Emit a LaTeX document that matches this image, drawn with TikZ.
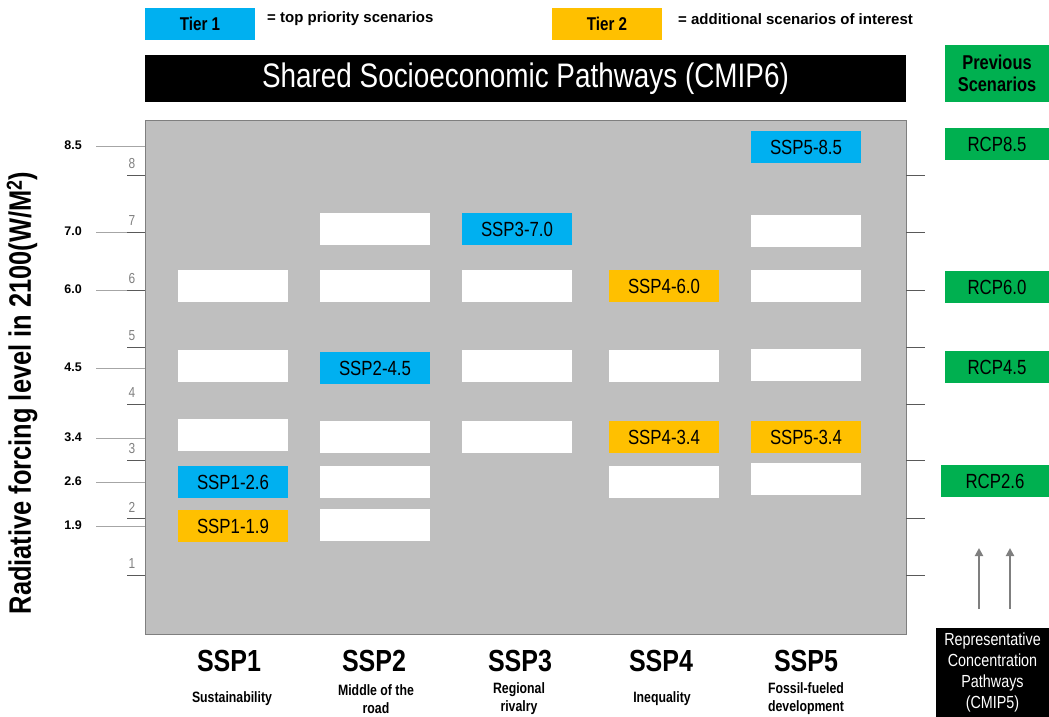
\documentclass[tikz,border=0pt]{standalone}
\usepackage{fontspec}
\setmainfont{Liberation Sans}
\newfontfamily\narrow[FakeStretch=0.82]{Liberation Sans}
\usetikzlibrary{arrows.meta}
\definecolor{tierblue}{HTML}{00B0F0}
\definecolor{tierorange}{HTML}{FFC000}
\definecolor{rcpgreen}{HTML}{00B050}
\definecolor{panelgray}{HTML}{BFBFBF}
\definecolor{framegray}{HTML}{7F7F7F}
\definecolor{ticklight}{HTML}{A6A6A6}
\definecolor{tickdark}{HTML}{595959}
\definecolor{numgray}{HTML}{808080}
\tikzset{
  scen/.style={minimum width=110pt, minimum height=32pt, inner sep=0pt,
    font=\narrow\fontsize{20.5}{22}\selectfont},
  blank/.style={scen, fill=white},
  tierone/.style={scen, fill=tierblue},
  tiertwo/.style={scen, fill=tierorange},
  rcp/.style={fill=rcpgreen, minimum width=104pt, minimum height=32pt, inner sep=0pt,
    font=\narrow\fontsize{20.5}{22}\selectfont},
  legendbox/.style={minimum width=110pt, minimum height=32pt, inner sep=0pt,
    font=\narrow\bfseries\fontsize{18.5}{20}\selectfont},
  legendtext/.style={anchor=west, inner sep=0pt, font=\bfseries\fontsize{15}{17}\selectfont},
  valuelabel/.style={anchor=east, inner sep=0pt, font=\bfseries\fontsize{12.5}{15}\selectfont},
  intlabel/.style={inner sep=0pt, text=numgray, font=\narrow\fontsize{14.5}{16}\selectfont},
  valueline/.style={ticklight, line width=0.8pt},
  intline/.style={tickdark, line width=0.8pt},
  ssphead/.style={inner sep=0pt, font=\narrow\bfseries\fontsize{30.5}{32}\selectfont},
  sspsub/.style={inner sep=0pt, align=center, font=\narrow\bfseries\fontsize{15}{18}\selectfont},
  uparrow/.style={framegray, line width=2.6pt, -{Triangle[length=8pt,width=8pt]}}
}
\begin{document}
\begin{tikzpicture}[x=1pt,y=-1pt]
\useasboundingbox (0,0) rectangle (1049,717);

% legend
\node[legendbox, fill=tierblue] (leg1) at (200,24) {Tier 1};
\node[legendtext] (leg1t) at (267,19) {= top priority scenarios};
\node[legendbox, fill=tierorange] (leg2) at (607,24) {Tier 2};
\node[legendtext] (leg2t) at (678,19) {= additional scenarios of interest};

% title bar and previous-scenarios header
\node[fill=black, text=white, minimum width=761pt, minimum height=47pt, inner sep=0pt,
  font=\narrow\fontsize{34}{36}\selectfont] (title) at (525.5,78.5) {Shared Socioeconomic Pathways (CMIP6)};
\node[fill=rcpgreen, minimum width=104pt, minimum height=57pt, inner sep=0pt, align=center,
  font=\narrow\bfseries\fontsize{20}{22}\selectfont] (prev) at (997,73.5) {Previous\\Scenarios};

% grey panel
\node[fill=panelgray, draw=framegray, line width=1pt, minimum width=761pt, minimum height=514pt,
  inner sep=0pt] (panel) at (525.5,377) {};

% forcing values on the left
\foreach \v/\y in {8.5/146, 7.0/232, 6.0/290, 4.5/368, 3.4/438, 2.6/482, 1.9/526}{
  \draw[valueline] (96,\y) -- (145,\y);
  \node[valuelabel] at (82,\y-1) {\v};
}
% integer scale, left and right
\foreach \k/\y in {1/575, 2/518, 3/460, 4/404, 5/347, 6/290, 7/232, 8/175}{
  \draw[intline] (127,\y) -- (145,\y);
  \draw[intline] (906,\y) -- (925,\y);
  \node[intlabel] at (132,\y-11) {\k};
}

% axis title
\node[rotate=90, inner sep=0pt, font=\narrow\bfseries\fontsize{31}{33}\selectfont] (ylab) at (22,393)
  {Radiative forcing level in 2100(W/M\textsuperscript{2})};

% SSP1
\node[blank] (s1a) at (233,286) {};
\node[blank] (s1b) at (233,366) {};
\node[blank] (s1c) at (233,435) {};
\node[tierone] (s1d) at (233,482) {SSP1-2.6};
\node[tiertwo] (s1e) at (233,526) {SSP1-1.9};
% SSP2
\node[blank] (s2a) at (375,229) {};
\node[blank] (s2b) at (375,286) {};
\node[tierone] (s2c) at (375,368) {SSP2-4.5};
\node[blank] (s2d) at (375,437) {};
\node[blank] (s2e) at (375,482) {};
\node[blank] (s2f) at (375,525) {};
% SSP3
\node[tierone] (s3a) at (517,229) {SSP3-7.0};
\node[blank] (s3b) at (517,286) {};
\node[blank] (s3c) at (517,366) {};
\node[blank] (s3d) at (517,437) {};
% SSP4
\node[tiertwo] (s4a) at (664,286) {SSP4-6.0};
\node[blank] (s4b) at (664,366) {};
\node[tiertwo] (s4c) at (664,437) {SSP4-3.4};
\node[blank] (s4d) at (664,482) {};
% SSP5
\node[tierone] (s5a) at (806,147) {SSP5-8.5};
\node[blank] (s5b) at (806,231) {};
\node[blank] (s5c) at (806,286) {};
\node[blank] (s5d) at (806,365) {};
\node[tiertwo] (s5e) at (806,437) {SSP5-3.4};
\node[blank] (s5f) at (806,479) {};

% column headings
\node[ssphead] (h1) at (229,661) {SSP1};
\node[ssphead] (h2) at (374,661) {SSP2};
\node[ssphead] (h3) at (520,661) {SSP3};
\node[ssphead] (h4) at (661,661) {SSP4};
\node[ssphead] (h5) at (806,661) {SSP5};
\node[sspsub] (d1) at (232,699) {Sustainability};
\node[sspsub] (d2) at (376,699) {Middle of the\\road};
\node[sspsub] (d3) at (519,699) {Regional\\rivalry};
\node[sspsub] (d4) at (662,699) {Inequality};
\node[sspsub] (d5) at (806,699) {Fossil-fueled\\development};

% previous scenarios (RCPs)
\node[rcp] (r85) at (997,144) {RCP8.5};
\node[rcp] (r60) at (997,287) {RCP6.0};
\node[rcp] (r45) at (997,367) {RCP4.5};
\node[rcp, minimum width=108pt] (r26) at (995,481) {RCP2.6};

\node[fill=black, text=white, minimum width=113pt, minimum height=89pt, inner sep=0pt, align=center,
  font=\narrow\fontsize{17.5}{21}\selectfont] (cmip5) at (992.5,672.5)
  {Representative\\Concentration\\Pathways\\(CMIP5)};

\coordinate (a1s) at (979,609);
\coordinate (a1e) at (979,548);
\coordinate (a2s) at (1010,609);
\coordinate (a2e) at (1010,548);
\draw[uparrow] (a1s) -- (a1e);
\draw[uparrow] (a2s) -- (a2e);
\end{tikzpicture}
\end{document}
